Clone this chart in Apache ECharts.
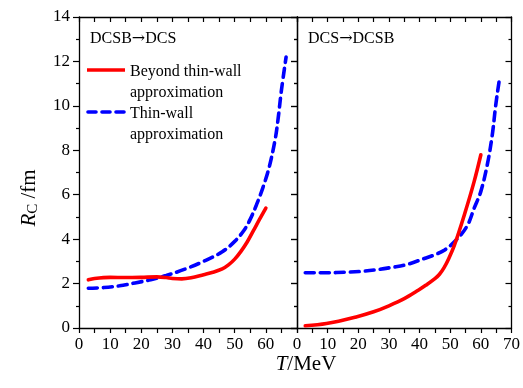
<!DOCTYPE html>
<html>
<head>
<meta charset="utf-8">
<script src="https://cdn.jsdelivr.net/npm/echarts@6/dist/echarts.min.js"></script>
<style>
  html, body { margin: 0; padding: 0; background: #fff; }
  #chart { width: 523px; height: 388px; }
</style>
</head>
<body>
<div id="chart"></div>
<script>
// Critical radius R_C versus temperature T for the two transition directions.
var panelFrom = ['DCSB', 'DCS'];
var panelTo = ['DCS', 'DCSB'];
var seriesNames = ['Beyond thin-wall\napproximation', 'Thin-wall\napproximation'];

// Panel 1: DCSB -> DCS
var leftBeyondT = [3, 5, 10, 15, 20, 25, 28, 30, 33, 36, 40, 43, 46, 48, 50, 52, 54, 56, 58, 60];
var leftBeyondR = [2.17, 2.23, 2.28, 2.27, 2.28, 2.30, 2.27, 2.23, 2.21, 2.26, 2.40, 2.51, 2.66, 2.84, 3.10, 3.45, 3.87, 4.38, 4.90, 5.40];
var leftThinT = [3, 8, 13, 18, 23, 28, 34, 40, 46, 50, 53, 55, 57, 59, 61, 63, 64, 65, 66.5];
var leftThinR = [1.79, 1.82, 1.90, 2.03, 2.17, 2.36, 2.65, 3.00, 3.43, 3.90, 4.40, 4.90, 5.55, 6.30, 7.20, 8.50, 9.50, 10.70, 12.20];

// Panel 2: DCS -> DCSB
var rightBeyondT = [2.7, 9.6, 19.3, 25, 30, 35, 39.7, 42, 45, 46.5, 48, 49.5, 51.4, 54.6, 57.8, 60];
var rightBeyondR = [0.10, 0.20, 0.50, 0.73, 1.00, 1.32, 1.71, 1.92, 2.22, 2.42, 2.72, 3.12, 3.74, 5.09, 6.59, 7.80];
var rightThinT = [2.7, 10, 16, 21, 26.8, 31, 35.4, 41.8, 45, 48.2, 52.5, 55.7, 57.8, 60, 62.2, 63.8, 64.8, 65.9, 66.2];
var rightThinR = [2.49, 2.49, 2.51, 2.55, 2.64, 2.73, 2.84, 3.14, 3.30, 3.51, 4.04, 4.64, 5.39, 6.15, 7.42, 8.77, 9.97, 11.05, 11.25];

var xTickValues = [0, 10, 20, 30, 40, 50, 60, 70];
var yTickValues = [0, 2, 4, 6, 8, 10, 12, 14];

function pairs(xs, ys) {
  return xs.map(function (x, i) { return [x, ys[i]]; });
}

var serif = '"Liberation Serif", "DejaVu Serif", serif';
var RED = '#ff0000';
var BLUE = '#0000ff';
var axisLine = { show: true, onZero: false, lineStyle: { color: '#000', width: 1.3 } };

function bottomX(gridIndex, showLast) {
  return {
    type: 'value', gridIndex: gridIndex, position: 'bottom',
    min: xTickValues[0], max: xTickValues[xTickValues.length - 1], interval: 10,
    axisLine: axisLine,
    axisTick: { show: true, inside: false, length: 5, lineStyle: { color: '#000', width: 1.2 } },
    minorTick: { show: true, splitNumber: 2, length: 5, lineStyle: { color: '#000', width: 1.2 } },
    axisLabel: { show: true, margin: 8, color: '#000', fontFamily: serif, fontSize: 17,
      showMinLabel: true, showMaxLabel: showLast },
    splitLine: { show: false }
  };
}
function topX(gridIndex) {
  return {
    type: 'value', gridIndex: gridIndex, position: 'top',
    min: xTickValues[0], max: xTickValues[xTickValues.length - 1], interval: 5,
    axisLine: axisLine,
    axisTick: { show: true, inside: true, length: 5, lineStyle: { color: '#000', width: 1.2 } },
    axisLabel: { show: false }, splitLine: { show: false }
  };
}
function yAx(gridIndex, position, labels, inside) {
  return {
    type: 'value', gridIndex: gridIndex, position: position,
    min: yTickValues[0], max: yTickValues[yTickValues.length - 1], interval: 2,
    axisLine: axisLine,
    axisTick: { show: true, inside: inside, length: 6, lineStyle: { color: '#000', width: 1.2 } },
    minorTick: { show: true, splitNumber: 2, length: 3, lineStyle: { color: '#000', width: 1.2 } },
    axisLabel: { show: labels, margin: 9, color: '#000', fontFamily: serif, fontSize: 17 },
    splitLine: { show: false }
  };
}

function lineSeries(name, xi, yi, data, color, dashed) {
  return {
    type: 'line', name: name, xAxisIndex: xi, yAxisIndex: yi,
    data: data, smooth: 0.35, showSymbol: false, symbol: 'none',
    lineStyle: { color: color, width: 3.6, type: dashed ? [9, 6] : 'solid', cap: 'round' },
    z: dashed ? 3 : 4, silent: true
  };
}

// Panel heading "A→B" with a wide arrow glyph
function heading(x, i) {
  return { type: 'text', left: x, top: 31, style: {
    text: '{t|' + panelFrom[i] + '}{a|\u2192}{t|' + panelTo[i] + '}',
    rich: { t: { fontFamily: serif, fontSize: 16, fill: '#000' },
            a: { fontFamily: '"DejaVu Serif", serif', fontSize: 16, fill: '#000' } } } };
}

var chart = echarts.init(document.getElementById('chart'), null, { renderer: 'canvas' });
chart.setOption({
  animation: false,
  backgroundColor: '#fff',
  grid: [
    { left: 79, right: 226, top: 17, bottom: 60 },
    { left: 297, right: 9, top: 17, bottom: 60 }
  ],
  xAxis: [bottomX(0, false), topX(0), bottomX(1, true), topX(1)],
  yAxis: [yAx(0, 'left', true, false), yAx(0, 'right', false, true),
          yAx(1, 'left', false, false), yAx(1, 'right', false, true)],
  series: [
    lineSeries(seriesNames[1], 0, 0, pairs(leftThinT, leftThinR), BLUE, true),
    lineSeries(seriesNames[0], 0, 0, pairs(leftBeyondT, leftBeyondR), RED, false),
    lineSeries(seriesNames[1], 2, 2, pairs(rightThinT, rightThinR), BLUE, true),
    lineSeries(seriesNames[0], 2, 2, pairs(rightBeyondT, rightBeyondR), RED, false)
  ],
  graphic: [
    heading(90, 0),
    heading(308, 1),
    // legend
    { type: 'line', shape: { x1: 87, y1: 70, x2: 125, y2: 70 },
      style: { stroke: RED, lineWidth: 3.6 } },
    { type: 'text', left: 130, top: 61, style: { text: seriesNames[0], font: '16px ' + serif, fill: '#000', lineHeight: 21 } },
    { type: 'line', shape: { x1: 88, y1: 112, x2: 124, y2: 112 },
      style: { stroke: BLUE, lineWidth: 3.6, lineDash: [8, 6], lineCap: 'round' } },
    { type: 'text', left: 130, top: 103, style: { text: seriesNames[1], font: '16px ' + serif, fill: '#000', lineHeight: 21 } },
    // axis names
    { type: 'text', x: 306, y: 375, style: {
        text: '{i|T}{n|/MeV}', align: 'center', verticalAlign: 'bottom',
        rich: { i: { fontFamily: serif, fontSize: 21, fontStyle: 'italic', fill: '#000' },
                n: { fontFamily: serif, fontSize: 21, fill: '#000' } } } },
    { type: 'text', x: 29, y: 198, rotation: Math.PI / 2, style: {
        text: '{i|R}{s|C}{n| /fm}', align: 'center', verticalAlign: 'middle',
        rich: { i: { fontFamily: serif, fontSize: 21, fontStyle: 'italic', fill: '#000' },
                s: { fontFamily: serif, fontSize: 15, fill: '#000', verticalAlign: 'bottom', padding: [8, 0, 0, 0] },
                n: { fontFamily: serif, fontSize: 21, fill: '#000' } } } }
  ]
});
</script>
</body>
</html>
